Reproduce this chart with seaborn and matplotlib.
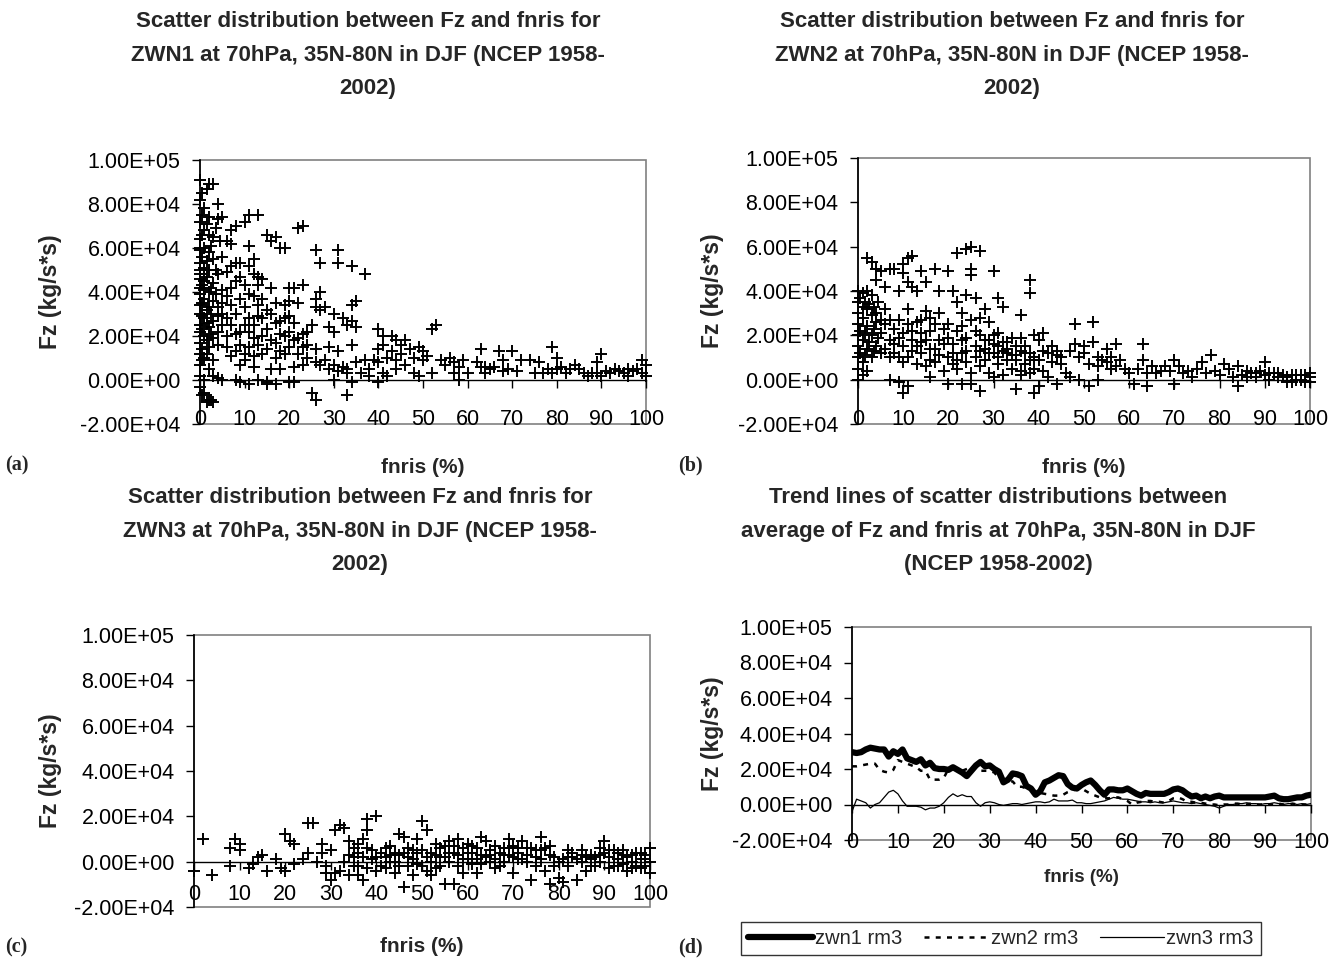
import numpy as np
import pandas as pd
import matplotlib
matplotlib.use("Agg")
import matplotlib.pyplot as plt
from matplotlib.ticker import FuncFormatter
import seaborn as sns

sns.set_style("white")
plt.rcParams['font.family'] = ['Liberation Sans', 'DejaVu Sans']

# ---------------- data (Fz in units of 1e4 kg/s*s) ----------------
x_ticks = [0, 10, 20, 30, 40, 50, 60, 70, 80, 90, 100]
y_ticks = [-2e4, 0, 2e4, 4e4, 6e4, 8e4, 1e5]

titles = [
    "Scatter distribution between Fz and fnris for\nZWN1 at 70hPa, 35N-80N in DJF (NCEP 1958-\n2002)",
    "Scatter distribution between Fz and fnris for\nZWN2 at 70hPa, 35N-80N in DJF (NCEP 1958-\n2002)",
    "Scatter distribution between Fz and fnris for\nZWN3 at 70hPa, 35N-80N in DJF (NCEP 1958-\n2002)",
    "Trend lines of scatter distributions between\naverage of Fz and fnris at 70hPa, 35N-80N in DJF\n(NCEP 1958-2002)",
]
panel_labels = ["(a)", "(b)", "(c)", "(d)"]
series_names = ["zwn1 rm3", "zwn2 rm3", "zwn3 rm3"]

zwn1_pts = [
    (0,9.1),(0.5,8.5),(1.5,8.7),(2,8.9),(3,8.9),(4,8.0),(1,7.8),(0.5,7.5),(0,7.2),(2,7.4),(4,7.3),(5,7.4),
    (1,6.8),(2,6.6),(3,6.5),(0,6.4),(4.5,6.3),(6,6.3),(7,6.2),(1,6.0),(0,5.9),(2,5.8),(3,5.5),(5,5.6),
    (0,5.3),(1,5.1),(2,5.0),(0,4.8),(4,4.8),(6,4.9),(7,5.2),(1,4.5),(3,4.4),(0,4.2),(2,4.0),(5,4.1),
    (0,3.9),(1,3.7),(3,3.6),(0,3.4),(2,3.3),(4,3.3),(0,3.0),(1,2.8),(3,2.7),(0,2.5),(2,2.4),(5,2.5),
    (0,2.2),(1,2.0),(3,1.9),(0,1.7),(2,1.5),(4,1.6),(0,1.2),(1,1.0),(3,0.9),(0,0.7),(2,0.5),(0,0.2),
    (1,0.0),(3,0.2),(0,-0.3),(1,-0.6),(2,-0.9),(2.5,-0.9),(1.5,-1.0),(3,-1.0),(0.5,-0.7),
    (0,4.6),(0.5,4.3),(1,4.1),(0.5,3.5),(1.5,3.2),(0.5,2.9),(1.5,2.6),(0.5,2.3),(1.5,1.8),(0.5,1.4),
    (1.5,1.2),(0.5,0.9),(0,6.0),(0.5,5.6),(1.5,5.4),(0,5.0),(1.5,4.7),(2.5,4.2),(2.5,3.0),(2.5,2.1),
    (3.5,5.0),(3.5,3.9),(4,2.9),(4,2.2),(5,3.5),(5,3.0),(6,3.8),(6,2.8),(6,1.5),(7,3.4),(7,2.5),(7,1.1),
    (8,4.5),(8,2.1),(9,4.7),(9,1.6),(10,3.3),(10,2.5),(10,0.9),(11,3.9),(11,1.5),(12,2.5),(13,3.4),
    (13,1.6),(14,2.8),(14,1.2),(15,2.3),(16,1.8),(17,2.6),(18,2.1),(18,1.3),(19,2.8),(20,2.2),(21,2.6),
    (22,1.2),(23,2.1),(24,1.6),(2.5,6.1),(3.5,6.9),(1.5,7.1),(0,8.2),(0.5,6.6),
    (7,6.8),(8,7.0),(10,7.2),(11,7.5),(13,7.5),(11,6.1),(15,6.6),(16,6.3),(17,6.5),(18,6.0),(19,6.0),
    (22,6.9),(23,7.0),(12,5.5),(8,5.3),(9,5.3),(11,5.2),(12,4.8),(13,4.7),(14,4.6),(7,4.2),(10,4.3),
    (13,4.3),(16,4.2),(20,4.2),(21,4.2),(23,4.3),(27,4.0),(26,3.7),(26,3.3),(27,3.2),(28,3.3),(9,3.7),
    (12,3.8),(14,3.7),(17,3.5),(19,3.4),(20,3.6),(22,3.5),(30,3.0),(32,2.8),(34,3.4),(35,3.6),(34,2.7),
    (33,2.5),(35,2.4),(8,3.0),(11,2.8),(13,2.9),(15,3.2),(16,3.0),(18,2.7),(20,2.9),(25,2.5),(24,2.2),
    (29,2.4),(30,2.2),(6,2.0),(9,2.2),(11,2.2),(12,1.9),(14,2.0),(17,1.7),(19,2.0),(21,1.8),(22,1.9),
    (23,1.5),(26,1.4),(29,1.5),(31,1.3),(34,1.6),(8,1.3),(10,1.2),(12,1.1),(15,1.4),(17,1.0),(19,1.2),
    (20,1.5),(24,1.0),(26,0.8),(28,0.9),(30,0.7),(32,0.6),(33,0.5),(35,0.8),(37,0.9),(9,0.7),(12,0.6),
    (16,0.5),(18,0.5),(21,0.6),(23,0.7),(27,0.7),(29,0.5),(31,0.4),(33,0.3),(36,0.3),(38,0.2),(8,0.0),
    (9,-0.1),(11,-0.2),(13,0.0),(15,-0.1),(17,-0.2),(20,-0.1),(21,-0.1),(30,0.0),(34,-0.1),(40,-0.1),
    (42,0.2),(25,-0.6),(26,-0.9),(33,-0.7),(15,-0.2),(4,0.1),(5,0.0),
    (26,5.9),(27,5.3),(31,5.9),(31,5.3),(34,5.2),(37,4.8),
    (40,2.3),(41,2.0),(43,2.0),(44,1.8),(45,1.6),(46,1.8),(49,1.5),(50,1.3),(52,2.3),(53,2.5),(40,1.4),
    (41,1.6),(43,1.3),(45,1.2),(47,1.4),(48,1.0),(50,0.9),(51,1.1),(40,0.8),(42,1.0),(44,0.9),(46,0.7),
    (48,0.3),(49,0.2),(52,0.3),(38,0.5),(39,0.9),(41,0.3),(44,0.5),(54,0.9),(55,0.7),(56,1.0),(57,0.8),
    (58,0.6),(59,0.9),(57,0.3),
    (62,0.8),(63,0.6),(63,1.4),(64,0.6),(65,0.5),(66,0.6),(67,1.3),(68,0.9),(69,0.5),(70,1.3),(71,0.4),
    (72,0.9),(74,0.9),(75,0.3),(78,0.5),(79,1.5),(79,0.3),(80,1.0),(80,0.5),(81,0.6),(82,0.3),(84,0.7),
    (85,0.5),(86,0.3),(87,0.2),(88,0.3),(89,0.8),(89,0.3),(90,1.2),(90,0.2),(91,0.4),(92,0.3),(93,0.5),
    (94,0.4),(95,0.3),(96,0.5),(97,0.4),(98,0.5),(99,0.3),(100,0.7),(100,0.2),(99,0.9),(96,0.2),(64,0.3),
    (68,0.4),(76,0.8),(77,0.3),(83,0.5),(58,0.0),(60,0.3),
]

zwn2_pts = [
    (0,4.0),(1,3.9),(2,4.0),(3,3.8),(0,3.5),(1,3.3),(2,3.2),(0,3.0),(1,2.8),(3,2.9),(4,3.0),(0,2.5),
    (2,2.4),(4,2.6),(5,2.7),(0,2.0),(1,1.8),(3,2.0),(0,1.5),(2,1.4),(4,1.5),(0,1.0),(1,0.8),(3,1.0),
    (5,1.2),(0,0.5),(2,0.4),(0,0.0),(1,0.2),(0.5,3.7),(1.5,3.5),(2.5,3.4),(0.5,2.2),(1.5,2.1),(2.5,1.7),
    (0.5,1.2),(1.5,1.1),(3.5,2.3),(3.5,1.3),(4.5,1.9),
    (2,5.5),(3,5.3),(4,5.0),(5,4.9),(4,4.5),(6,4.2),(7,5.0),(8,5.0),(9,4.0),(10,5.2),(11,5.5),(12,5.6),
    (10,4.8),(11,4.4),(12,4.2),(13,4.0),(14,4.9),(15,4.4),(17,5.0),(18,4.0),(20,4.9),(21,4.0),(22,5.7),
    (24,5.9),(25,6.0),(27,5.8),(25,5.0),(25,4.7),(30,4.9),(22,3.5),(24,3.8),(26,3.7),(28,3.2),(31,3.7),
    (32,3.3),(38,4.5),(38,3.9),(36,2.9),
    (6,3.2),(7,2.7),(8,2.3),(9,2.7),(10,2.1),(11,2.5),(12,2.2),(14,2.7),(15,3.1),(16,2.8),(17,2.5),
    (18,1.8),(19,2.3),(20,1.9),(21,1.6),(22,2.2),(23,2.4),(24,1.9),(25,2.7),(26,1.5),(27,2.0),(28,1.8),
    (29,2.6),(30,1.6),(31,2.1),(32,1.3),(33,1.7),(34,1.1),(35,1.5),(36,1.9),(37,1.2),(38,0.9),(39,2.0),
    (40,1.8),(41,2.1),(6,1.4),(7,1.0),(8,1.6),(9,1.0),(10,1.5),(11,1.0),(12,1.8),(13,0.7),(14,1.2),
    (15,0.6),(16,1.4),(17,0.8),(18,1.1),(19,0.4),(20,1.0),(21,0.7),(22,0.5),(23,1.2),(24,0.8),(25,0.3),
    (26,1.0),(27,0.6),(28,0.9),(29,0.3),(30,1.2),(31,0.7),(32,0.2),(33,0.9),(34,0.5),(35,0.9),(36,0.4),
    (37,0.7),(38,0.3),(39,0.5),(40,0.9),(41,0.4),(42,1.2),(43,0.8),(44,1.3),(45,0.7),(46,0.3),(7,0.0),
    (9,-0.1),(10,-0.6),(11,-0.3),(16,0.1),(20,-0.2),(23,-0.2),(25,-0.2),(27,-0.5),(30,0.1),(35,-0.4),
    (39,-0.6),(40,-0.3),(44,-0.2),(42,0.1),(36,0.2),
    (11,3.2),(13,2.6),(14,1.7),(16,2.2),(18,3.0),(20,2.5),(23,3.0),(27,2.8),(29,1.2),(31,1.5),(33,1.2),
    (34,1.9),(36,1.3),(43,1.5),(44,1.1),(45,1.0),
    (5,2.1),(6,2.5),(7,1.8),(8,1.2),(9,1.9),(10,0.8),(12,1.3),(13,1.5),(14,2.1),(15,1.8),(16,0.9),
    (17,1.4),(19,1.6),(21,1.2),(22,0.9),(23,1.8),(24,1.3),(26,2.2),(27,1.3),(28,1.4),(29,1.8),(30,2.0),
    (31,1.0),(32,1.7),(33,1.4),(35,1.1),(37,1.5),(38,1.2),(39,1.0),(41,1.3),(3.5,3.3),(4.5,3.5),
    (47,1.3),(48,1.6),(49,1.0),(50,1.2),(51,0.7),(53,0.6),(54,0.9),(56,1.0),
    (48,2.5),(52,2.6),(50,1.5),(52,1.7),(53,1.0),(55,1.4),(57,1.6),(55,0.8),(56,0.5),(57,0.6),(58,0.9),
    (59,0.5),(60,0.3),(63,1.6),(62,0.5),(63,0.9),(64,0.3),(65,0.6),(66,0.3),(67,0.4),(68,0.6),(69,0.4),
    (70,0.9),(71,0.6),(72,0.3),(73,0.4),(74,0.1),(75,0.5),(76,0.8),(77,0.3),(78,1.1),(79,0.4),(80,0.2),
    (81,0.7),(82,0.5),(83,0.1),(84,0.6),(85,0.2),(86,0.1),(87,0.3),(88,0.1),(89,0.4),(90,0.8),(90,0.2),
    (91,0.0),(92,0.3),(93,0.1),(94,0.2),(95,-0.1),(96,0.2),(97,0.0),(98,0.2),(99,-0.1),(100,0.1),
    (100,0.3),(53,0.0),(49,0.0),(47,0.1),(51,-0.3),(61,-0.2),(64,-0.3),(70,-0.2),(84,-0.3),
    (86,0.4),(88,0.3),(91,0.3),(93,0.3),(95,0.1),(97,0.2),(99,0.2),(100,-0.1),(98,0.0),(96,-0.1),
]

zwn3_pts = [
    (0,-0.4),(2,1.0),(4,-0.6),(8,0.6),(8,-0.2),(9,1.0),(10,0.8),(10,0.5),(12,-0.3),(13,-0.1),(14,0.2),
    (15,0.3),(16,-0.4),(18,0.1),(19,-0.3),(20,-0.4),(20,1.2),(21,0.9),(22,0.8),(22,-0.1),(24,0.1),
    (25,0.4),(25,1.7),(26,1.7),(27,0.0),(28,0.8),(28,0.4),(29,-0.5),(30,-0.8),(30,0.5),(31,1.4),
    (32,1.6),(32,-0.4),(33,1.5),(33,0.0),(34,-0.6),(35,0.6),(35,0.2),(36,0.8),(36,-0.2),(37,-0.8),
    (37,1.0),(38,1.4),(38,1.9),(38,-0.3),(39,0.5),(40,2.0),(40,0.2),(41,-0.2),(42,0.6),(43,0.0),
    (44,-0.5),(44,0.4),(45,1.2),(45,-0.2),(46,1.1),(46,-1.1),(47,0.6),(48,0.1),(48,-0.6),(49,1.0),
    (50,0.5),(50,-0.2),(50,1.8),(51,1.4),(52,-0.6),(52,0.4),(53,0.8),(53,-0.3),(54,0.2),(55,0.7),
    (55,-1.0),(56,0.9),(56,0.0),(57,0.4),(57,-1.0),(58,1.0),(59,-0.5),(59,0.6),(60,0.8),(60,0.1),
    (61,-0.1),(62,0.6),(62,-0.5),(63,0.3),(63,1.1),(64,0.9),(65,0.0),(65,0.5),(66,0.7),(67,-0.2),
    (68,0.6),(69,1.0),(69,0.3),(70,-0.5),(70,0.7),(71,0.1),(72,0.9),(73,0.3),(74,0.6),(74,-0.8),
    (75,0.2),(76,1.1),(77,0.6),(77,-0.4),(78,0.3),(78,-1.0),(80,0.0),(80,-0.7),(81,-0.9),(82,0.2),
    (83,0.4),(84,0.1),(84,-0.8),(85,0.5),(86,0.2),(86,-0.4),(87,0.3),(88,0.2),(89,0.0),(90,0.9),
    (90,0.4),(91,-0.3),(92,-0.2),(92,0.5),(93,0.1),(94,0.3),(95,-0.4),(95,0.2),(96,0.0),(97,-0.2),
    (97,0.4),(98,0.1),(99,-0.2),(99,0.3),(100,0.0),(100,-0.5),(100,0.6),
    (34,0.3),(35,-0.2),(36,0.4),(37,0.2),(39,0.1),(41,0.4),(42,-0.3),(43,0.3),(44,0.0),(46,0.4),
    (47,-0.2),(48,0.5),(49,-0.1),(51,0.2),(52,0.0),(53,0.3),(54,0.6),(55,0.2),(56,0.4),(57,0.7),
    (58,0.3),(59,0.1),(61,0.4),(62,0.1),(64,0.2),(66,0.1),(67,0.4),(68,0.0),(69,0.6),(71,0.4),
    (72,0.1),(73,0.6),(75,0.5),(76,0.1),(79,0.2),(81,0.1),(82,-0.2),(83,0.2),(85,0.0),(87,0.1),
    (88,-0.2),(89,0.3),(91,0.2),(93,0.4),(94,-0.1),(96,0.3),(98,-0.3),(99,0.1),
    (29,-0.2),(31,-0.5),(34,0.9),(36,-0.6),(38,0.6),(40,-0.4),(42,0.2),(43,0.7),(45,0.3),(47,0.2),
    (49,0.4),(51,-0.4),(54,-0.2),(58,-0.2),(60,0.4),(61,0.7),(63,-0.1),(65,0.3),(66,-0.3),(68,0.3),
    (70,0.2),(71,0.6),(73,0.0),(75,-0.2),(76,0.5),(78,0.7),(79,-0.2),(82,0.5),(85,0.3),(87,-0.2),
    (89,0.6),(91,0.5),(93,-0.2),(94,0.5),(96,-0.3),(98,0.4),
]

fnris_rm = list(range(0, 101))
zwn1_rm3 = [2.95, 2.9, 2.95, 3.1, 3.2, 3.15, 3.1, 3.1, 2.7, 3.0,
            2.85, 3.1, 2.6, 2.5, 2.4, 2.55, 2.2, 2.35, 2.05, 2.0,
            2.0, 1.95, 2.1, 1.95, 1.8, 1.6, 1.9, 2.2, 2.4, 2.15,
            2.2, 2.0, 1.85, 1.25, 1.4, 1.75, 1.7, 1.6, 1.05, 0.9,
            0.55, 0.75, 1.25, 1.35, 1.5, 1.65, 1.6, 1.15, 0.95, 0.9,
            1.1, 1.25, 1.35, 1.1, 0.8, 0.55, 0.85, 0.85, 0.8, 0.8,
            0.9, 0.75, 0.6, 0.5, 0.65, 0.6, 0.6, 0.6, 0.6, 0.7,
            0.85, 0.9, 0.8, 0.6, 0.45, 0.5, 0.35, 0.45, 0.35, 0.45,
            0.5, 0.4, 0.4, 0.4, 0.4, 0.4, 0.4, 0.4, 0.4, 0.4,
            0.4, 0.45, 0.5, 0.35, 0.3, 0.3, 0.35, 0.4, 0.4, 0.5,
            0.55]
zwn2_rm3 = [2.15, 2.15, 2.2, 2.25, 2.3, 2.3, 1.95, 1.85, 1.8, 1.95,
            2.5, 2.4, 2.3, 2.2, 2.1, 1.9, 1.9, 1.4, 1.4, 1.4,
            1.5, 2.0, 2.0, 1.9, 1.9, 2.0, 2.1, 2.2, 1.9, 1.9,
            1.9, 1.8, 1.5, 1.3, 1.3, 1.3, 1.0, 1.0, 0.9, 0.8,
            0.7, 0.65, 0.6, 0.55, 0.5, 0.5, 0.55, 0.7, 0.8, 0.85,
            0.9, 0.75, 0.6, 0.5, 0.4, 0.35, 0.35, 0.4, 0.4, 0.3,
            0.2, 0.0, 0.1, 0.15, 0.2, 0.2, 0.15, 0.15, 0.1, 0.2,
            0.35, 0.4, 0.3, 0.15, 0.15, 0.1, 0.1, 0.05, 0.0, 0.0,
            -0.05, 0.0, 0.0, 0.05, 0.05, 0.0, 0.0, 0.05, 0.0, 0.0,
            0.05, 0.0, 0.0, 0.05, 0.0, 0.0, 0.05, 0.0, 0.0, 0.0,
            0.0]
zwn3_rm3 = [-0.4, 0.3, 0.2, 0.1, -0.2, 0.0, 0.1, 0.4, 0.7, 0.8,
            0.6, 0.2, -0.1, -0.1, -0.1, -0.15, -0.3, -0.2, -0.2, -0.1,
            0.1, 0.4, 0.6, 0.45, 0.55, 0.45, 0.45, 0.1, -0.1, 0.1,
            0.15, 0.1, 0.0, -0.05, 0.0, 0.05, 0.05, 0.0, 0.05, 0.1,
            0.15, 0.15, 0.1, 0.15, 0.3, 0.2, 0.2, 0.2, 0.25, 0.1,
            0.1, 0.05, 0.05, 0.1, 0.15, 0.2, 0.3, 0.4, 0.35, 0.3,
            0.3, 0.25, 0.2, 0.15, 0.15, 0.1, 0.15, 0.1, 0.1, 0.15,
            0.2, 0.15, 0.1, 0.1, 0.05, 0.1, 0.05, 0.0, -0.05, -0.1,
            -0.2, -0.1, 0.0, 0.0, 0.05, 0.05, 0.1, 0.05, 0.05, 0.0,
            0.05, 0.05, 0.1, 0.05, 0.0, 0.05, 0.05, 0.0, 0.05, 0.0,
            0.05]

# ---------------- layout ----------------
W, H = 1330, 964
fig = plt.figure(figsize=(W / 100, H / 100), dpi=100)


def px_axes(l, t, r, b):
    return fig.add_axes([l / W, 1 - b / H, (r - l) / W, (b - t) / H])


axes_px = [(200, 160, 646, 424), (858, 158, 1310, 424), (194, 635, 650, 907), (852, 627, 1311, 840)]
xpads = [15, 15, 10, 13.5]
axs = [px_axes(*p) for p in axes_px]

fmt = FuncFormatter(lambda v, pos: f"{v:.2E}")


def style_axes(ax, xpad):
    ax.set_xlim(0, 100)
    ax.set_ylim(-2e4, 1e5)
    ax.set_yticks(y_ticks)
    ax.set_xticks(x_ticks)
    ax.yaxis.set_major_formatter(fmt)
    ax.set_facecolor("white")
    ax.patch.set_edgecolor("#808080")
    ax.patch.set_linewidth(1.2)
    for s in ["top", "right"]:
        ax.spines[s].set_visible(False)
    ax.spines["left"].set_color("black")
    ax.spines["left"].set_linewidth(1.2)
    ax.spines["bottom"].set_position(("data", 0))
    ax.spines["bottom"].set_color("black")
    ax.spines["bottom"].set_linewidth(1.0)
    ax.tick_params(axis="y", direction="out", length=6, width=1, pad=8, labelsize=15.5, left=True, colors="black")
    ax.tick_params(axis="x", direction="out", length=6, width=1, pad=xpad, labelsize=15.5, bottom=True, colors="black")
    ax.grid(False)


scatter_sets = [zwn1_pts, zwn2_pts, zwn3_pts]
for i in range(3):
    ax = axs[i]
    df = pd.DataFrame(scatter_sets[i], columns=["fnris", "fz_e4"])
    df["Fz"] = df["fz_e4"] * 1e4
    sns.scatterplot(data=df, x="fnris", y="Fz", ax=ax, marker="+", color="black",
                    s=75, linewidth=1.4, clip_on=False, zorder=3)
    style_axes(ax, xpads[i])

axd = axs[3]
df_rm = pd.DataFrame({"fnris": fnris_rm,
                      "zwn1": np.array(zwn1_rm3) * 1e4,
                      "zwn2": np.array(zwn2_rm3) * 1e4,
                      "zwn3": np.array(zwn3_rm3) * 1e4})
sns.lineplot(data=df_rm, x="fnris", y="zwn1", ax=axd, color="black", linewidth=4.5,
             label=series_names[0], zorder=4)
sns.lineplot(data=df_rm, x="fnris", y="zwn2", ax=axd, color="black", linewidth=1.8,
             linestyle=(0, (2.0, 2.5)), label=series_names[1], zorder=3)
sns.lineplot(data=df_rm, x="fnris", y="zwn3", ax=axd, color="black", linewidth=0.9,
             label=series_names[2], zorder=3)
style_axes(axd, xpads[3])
handles, labels = axd.get_legend_handles_labels()
axd.get_legend().remove()

# axis labels
xl_y = [-0.165, -0.165, -0.147, -0.174]
xl_size = [15, 15, 15, 13.5]
for i, ax in enumerate(axs):
    ax.set_xlabel("fnris (%)", fontsize=xl_size[i], fontweight="bold")
    ax.xaxis.label.set_va("center")
    ax.xaxis.set_label_coords(0.5, xl_y[i])
    ax.set_ylabel("Fz (kg/s*s)", fontsize=16.5, fontweight="bold")
    ax.yaxis.label.set_va("center")
    l, t, r, b = axes_px[i]
    ax.yaxis.set_label_coords(-(l - (50 if i % 2 == 0 else 712)) / (r - l), 0.5)

# titles
title_pos = [(368, 55), (1012, 55), (360, 531), (998, 531)]
for i, (tx, ty) in enumerate(title_pos):
    fig.text(tx / W, 1 - ty / H, titles[i], ha="center", va="center", fontsize=16,
             fontweight="bold", linespacing=1.76)

# panel labels
plab_pos = [(5, 465), (678, 465), (5, 947), (678, 947)]
for i, (tx, ty) in enumerate(plab_pos):
    fig.text(tx / W, 1 - ty / H, panel_labels[i], ha="left", va="center", fontsize=14.5,
             fontweight="bold", family=["Liberation Serif", "DejaVu Serif"])

# legend
leg = fig.legend(handles, labels, loc="center", bbox_to_anchor=(1001 / W, 1 - 938.5 / H),
                 ncol=3, fontsize=14.5, frameon=True, fancybox=False, handlelength=3.2,
                 handletextpad=0.1, columnspacing=1.1, borderpad=0.35, borderaxespad=0)
leg.get_frame().set_edgecolor("black")
leg.get_frame().set_linewidth(1.0)

fig.savefig("out.png", dpi=100)
